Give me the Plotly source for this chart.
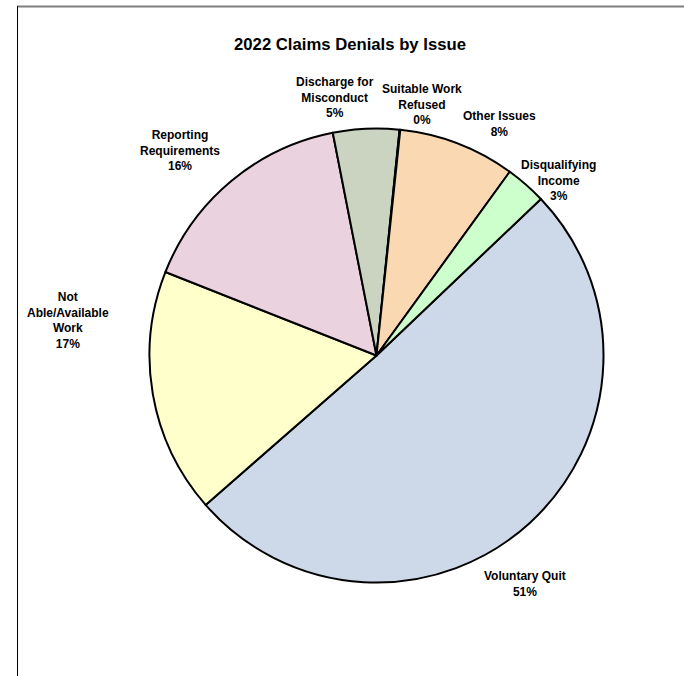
import plotly.graph_objects as go

categories = [
    "Voluntary Quit",
    "Not<br>Able/Available<br>Work",
    "Reporting<br>Requirements",
    "Discharge for<br>Misconduct",
    "Suitable Work<br>Refused",
    "Other Issues",
    "Disqualifying<br>Income",
]
shares = [50.6, 17.4, 15.9, 4.7, 0.05, 8.3, 2.9]
slice_colors = ["#CDD8E8", "#FFFFCC", "#EAD3DE", "#CAD4C1", "#FAD9B2", "#FAD9B2", "#CCFFCC"]
title_text = "2022 Claims Denials by Issue"

# label placement (pixel centres of each label block, layout only)
label_pos = [(525, 584), (67.5, 320.5), (180, 151), (335, 98), (422, 104), (499, 124), (558, 180)]

W, H = 684, 676
cx, cy, r = 376.5, 355.5, 227
FONT = "Liberation Sans, Arial, sans-serif"

fig = go.Figure(go.Pie(
    labels=categories,
    values=shares,
    sort=False,
    direction="clockwise",
    rotation=46.4,
    marker=dict(colors=slice_colors, line=dict(color="black", width=2)),
    textinfo="none",
    showlegend=False,
    hoverinfo="label+percent",
    domain=dict(x=[(cx - r) / W, (cx + r) / W], y=[1 - (cy + r) / H, 1 - (cy - r) / H]),
))

total = sum(shares)
annotations = []
for lab, v, (px, py) in zip(categories, shares, label_pos):
    pct = round(v / total * 100)
    annotations.append(dict(
        text="<b>%s<br>%d%%</b>" % (lab, pct),
        xref="paper", yref="paper", x=px / W, y=1 - py / H,
        xanchor="center", yanchor="middle", showarrow=False, align="center",
        font=dict(family=FONT, size=12, color="black"),
    ))

fig.update_layout(
    width=W, height=H,
    margin=dict(l=0, r=0, t=0, b=0),
    paper_bgcolor="white",
    title=dict(
        text="<b>" + title_text + "</b>",
        x=350 / W, xanchor="center",
        y=1 - 44 / H, yanchor="middle",
        font=dict(family=FONT, size=16.7, color="black"),
    ),
    annotations=annotations,
    shapes=[
        dict(type="line", xref="paper", yref="paper", x0=17 / W, x1=1.01, y0=1 - 6.5 / H, y1=1 - 6.5 / H,
             line=dict(color="#7F7F7F", width=2)),
        dict(type="line", xref="paper", yref="paper", x0=17.5 / W, x1=17.5 / W, y0=-0.01, y1=1 - 6 / H,
             line=dict(color="black", width=1)),
    ],
)

fig.write_html("out.html", config={"displayModeBar": False},
               post_script="document.body.style.margin='0';")
